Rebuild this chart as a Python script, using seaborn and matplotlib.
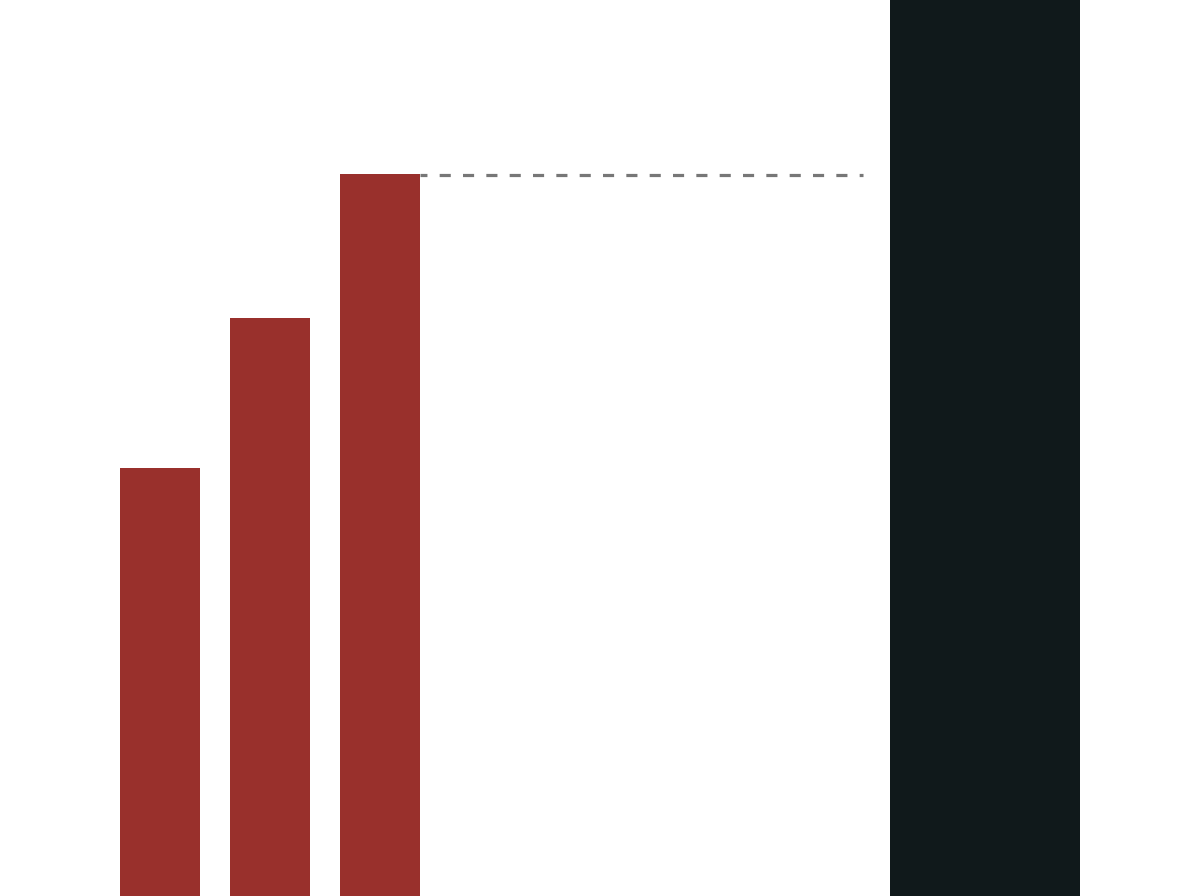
import matplotlib
matplotlib.use("Agg")
import matplotlib.pyplot as plt
import seaborn as sns
import pandas as pd

# three red step bars and a dark total bar on the right
step_labels = ["A", "B", "C"]
step_pos = [0, 1, 2]
step_values = [47.8, 64.5, 80.6]

total_label = ["Total"]
total_pos = [7.5]
total_values = [100]

red = "#99302C"
dark = "#10191B"
gray = "#777777"

sns.set_theme(style="white")
plt.rcParams["lines.scale_dashes"] = False

df_steps = pd.DataFrame({"label": step_labels, "pos": step_pos, "value": step_values})
df_total = pd.DataFrame({"label": total_label, "pos": total_pos, "value": total_values})

fig, ax = plt.subplots(figsize=(12, 8.96), dpi=100)
fig.subplots_adjust(left=0, right=1, bottom=0, top=1)

sns.barplot(data=df_steps, x="pos", y="value", native_scale=True,
            width=0.727, color=red, saturation=1, linewidth=0, ax=ax)
sns.barplot(data=df_total, x="pos", y="value", native_scale=True,
            width=1.727, color=dark, saturation=1, linewidth=0, ax=ax)

# dashed reference line from the last step to the total bar
ax.hlines(step_values[-1] - 0.15, step_pos[-1] + 0.3635, 6.39,
          colors=gray, linewidth=2.3, linestyles=(3.0, (8.0, 8.8)))

ax.set_xlim(-1.4545, 9.4545)
ax.set_ylim(0, 100)
ax.set_axis_off()

fig.savefig("out.png", dpi=100)
